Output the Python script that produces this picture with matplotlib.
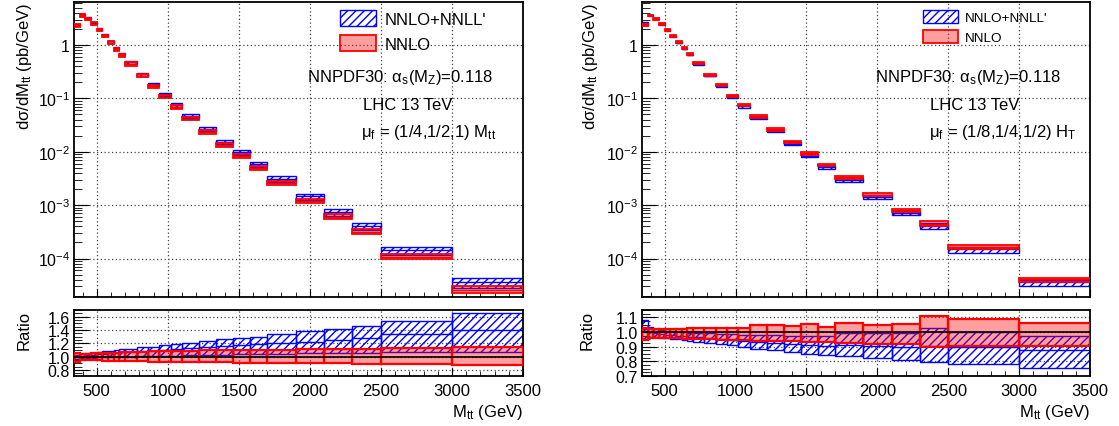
import numpy as np
import matplotlib
matplotlib.use('Agg')
import matplotlib.pyplot as plt
from matplotlib.ticker import FixedLocator, MultipleLocator, FuncFormatter, LogLocator, NullFormatter

plt.rcParams['font.family'] = ['Liberation Sans', 'DejaVu Sans']
plt.rcParams['mathtext.fontset'] = 'custom'
plt.rcParams['mathtext.rm'] = 'Liberation Sans'
plt.rcParams['mathtext.it'] = 'Liberation Sans:italic'
plt.rcParams['mathtext.bf'] = 'Liberation Sans:bold'
plt.rcParams['mathtext.default'] = 'rm'
plt.rcParams['hatch.linewidth'] = 1.0
plt.rcParams['hatch.color'] = 'blue'

# ---------------- data ----------------
mtt_edges = [340, 380, 420, 460, 500, 540, 580, 620, 660, 700, 780, 860, 940, 1020, 1100,
             1220, 1340, 1460, 1580, 1700, 1900, 2100, 2300, 2500, 3000, 3500]

# left panel: mu_f = (1/4,1/2,1) M_tt
nnlo_L = [2.37, 3.61, 3.13, 2.52, 1.94, 1.48, 1.11, 0.84, 0.65, 0.44, 0.267, 0.168, 0.108,
          0.068, 0.042, 0.0237, 0.0133, 0.0083, 0.0050, 0.0026, 0.00119, 0.00060, 0.00032,
          0.000109, 0.000026]
red_hi_L = [1.06, 1.045, 1.045, 1.05, 1.05, 1.055, 1.06, 1.06, 1.065, 1.07, 1.075, 1.08, 1.08,
            1.085, 1.09, 1.095, 1.095, 1.10, 1.10, 1.105, 1.11, 1.115, 1.12, 1.13, 1.15]
red_lo_L = [0.925, 0.945, 0.945, 0.945, 0.945, 0.94, 0.94, 0.935, 0.935, 0.93, 0.93, 0.925, 0.925,
            0.92, 0.92, 0.915, 0.915, 0.91, 0.91, 0.91, 0.905, 0.90, 0.895, 0.885, 0.87]
blue_hi_L = [1.03, 1.04, 1.05, 1.06, 1.07, 1.08, 1.09, 1.10, 1.11, 1.12, 1.14, 1.15, 1.17, 1.19,
             1.21, 1.23, 1.26, 1.28, 1.30, 1.34, 1.38, 1.42, 1.46, 1.54, 1.65]
blue_c_L = [1.0, 1.01, 1.02, 1.03, 1.035, 1.04, 1.05, 1.06, 1.065, 1.07, 1.08, 1.09, 1.10, 1.11,
            1.13, 1.14, 1.16, 1.18, 1.19, 1.21, 1.225, 1.25, 1.285, 1.335, 1.40]
blue_lo_L = [0.97, 0.975, 0.98, 0.985, 0.99, 0.99, 0.995, 1.0, 1.0, 1.0, 1.005, 1.01, 1.01, 1.015,
             1.02, 1.025, 1.03, 1.035, 1.04, 1.045, 1.05, 1.055, 1.06, 1.065, 1.07]

# right panel: mu_f = (1/8,1/4,1/2) H_T
nnlo_R = [2.44, 3.60, 3.13, 2.52, 1.94, 1.50, 1.14, 0.88, 0.68, 0.46, 0.28, 0.178, 0.114,
          0.075, 0.0465, 0.0266, 0.0154, 0.0093, 0.0057, 0.0033, 0.00158, 0.00080, 0.00045,
          0.000166, 0.000041]
red_hi_R = [1.028, 1.018, 1.018, 1.018, 1.02, 1.02, 1.022, 1.022, 1.025, 1.025, 1.028, 1.03, 1.028,
            1.03, 1.046, 1.046, 1.042, 1.053, 1.034, 1.061, 1.05, 1.057, 1.107, 1.09, 1.064]
red_lo_R = [0.943, 0.96, 0.96, 0.96, 0.958, 0.958, 0.956, 0.955, 0.955, 0.953, 0.95, 0.948, 0.948,
            0.946, 0.942, 0.94, 0.938, 0.935, 0.932, 0.925, 0.92, 0.918, 0.898, 0.902, 0.902]
blue_hi_R = [1.085, 1.035, 1.02, 1.012, 1.008, 1.005, 1.0, 0.998, 0.996, 0.994, 0.99, 0.988, 0.985,
             0.982, 0.98, 0.978, 0.975, 0.972, 0.97, 0.99, 0.99, 0.99, 1.027, 1.0, 0.97]
blue_c_R = [1.02, 1.0, 0.99, 0.985, 0.982, 0.98, 0.975, 0.97, 0.968, 0.965, 0.958, 0.952, 0.948,
            0.94, 0.932, 0.928, 0.92, 0.91, 0.906, 0.913, 0.905, 0.898, 0.905, 0.895, 0.875]
blue_lo_R = [0.955, 0.965, 0.965, 0.96, 0.957, 0.955, 0.95, 0.945, 0.94, 0.935, 0.926, 0.917, 0.91,
             0.90, 0.885, 0.88, 0.867, 0.85, 0.845, 0.836, 0.82, 0.807, 0.795, 0.78, 0.757]

label_resum = "NNLO+NNLL'"
label_fixed = "NNLO"
pdf_text = r"NNPDF30: α$_{\rm s}$(M$_{\rm Z}$)=0.118"
lhc_text = "LHC 13 TeV"
scale_L = r"μ$_{\rm f}$ = (1/4,1/2,1) M$_{\rm tt}$"
scale_R = r"μ$_{\rm f}$ = (1/8,1/4,1/2) H$_{\rm T}$"

# ---------------- figure ----------------
W, H = 1119, 427
fig = plt.figure(figsize=(W / 100, H / 100), dpi=100)


def rect(x0, x1, y0, y1):
    return [x0 / W, 1 - y1 / H, (x1 - x0) / W, (y1 - y0) / H]


edges = np.array(mtt_edges, dtype=float)
lefts = edges[:-1]
rights = edges[1:]
widths = np.diff(edges)

BLUE = '#0000ff'
RED = '#ff0000'
RFILL = (1.0, 0.0, 0.0, 0.38)


def log_fmt(v, p):
    if abs(v - 1) < 1e-9:
        return '1'
    return r'$10^{%d}$' % int(round(np.log10(v)))


def style(ax, ratio):
    for s in ax.spines.values():
        s.set_linewidth(1.3)
    ax.tick_params(which='both', direction='in', top=False, right=False, labelsize=11.5)
    ax.tick_params(axis='y', which='major', length=10.5, pad=3)
    ax.tick_params(axis='y', which='minor', length=5.5)
    ax.tick_params(axis='x', which='major', length=6, pad=5, labelsize=12)
    ax.tick_params(axis='x', which='minor', length=3.5)
    ax.xaxis.set_major_locator(MultipleLocator(500))
    ax.xaxis.set_minor_locator(MultipleLocator(100))
    ax.set_xlim(edges[0], edges[-1])
    ax.grid(True, which='major', linestyle=(0, (1, 2)), color='#444444', linewidth=0.9)
    ax.set_axisbelow(True)
    if not ratio:
        ax.tick_params(axis='x', labelbottom=False)


panels = [
    dict(x0=74, x1=523, nnlo=nnlo_L, rhi=red_hi_L, rlo=red_lo_L, bhi=blue_hi_L, bc=blue_c_L,
         blo=blue_lo_L, scale=scale_L, rlim=(0.71, 1.70), rmaj=0.2, rmin=0.05,
         leg=dict(anchor=(0.592, 0.972), fs=12, hl=2.2, hh=1.1, ls=0.5, tp=0.5),
         tx=(0.726, 0.744, 0.79), ylab_x=-0.089, rlab_x=-0.095),
    dict(x0=642, x1=1090, nnlo=nnlo_R, rhi=red_hi_R, rlo=red_lo_R, bhi=blue_hi_R, bc=blue_c_R,
         blo=blue_lo_R, scale=scale_R, rlim=(0.70, 1.15), rmaj=0.1, rmin=0.025,
         leg=dict(anchor=(0.627, 0.972), fs=9.7, hl=2.6, hh=1.05, ls=0.45, tp=0.55),
         tx=(0.728, 0.743, 0.806), ylab_x=-0.094, rlab_x=-0.105),
]

for p in panels:
    nn = np.array(p['nnlo'])
    rhi, rlo = np.array(p['rhi']), np.array(p['rlo'])
    bhi, bc, blo = np.array(p['bhi']), np.array(p['bc']), np.array(p['blo'])

    # ---- main panel ----
    ax = fig.add_axes(rect(p['x0'], p['x1'], 3, 298))
    ax.set_yscale('log')
    hb = ax.bar(lefts, nn * (bhi - blo), width=widths, bottom=nn * blo, align='edge',
                facecolor='none', edgecolor=BLUE, hatch='////', linewidth=1.0, zorder=2,
                label=label_resum)
    ax.hlines(nn * bc, lefts, rights, colors=BLUE, linewidth=1.0, zorder=2)
    hr = ax.bar(lefts, nn * (rhi - rlo), width=widths, bottom=nn * rlo, align='edge',
                facecolor=RFILL, edgecolor=RED, linewidth=1.3, zorder=3, label=label_fixed)
    ax.hlines(nn, lefts, rights, colors=RED, linewidth=1.0, zorder=3)
    ax.set_ylim(1.9e-5, 6.4)
    ax.yaxis.set_major_locator(FixedLocator([1e-4, 1e-3, 1e-2, 1e-1, 1]))
    ax.yaxis.set_major_formatter(FuncFormatter(log_fmt))
    ax.yaxis.set_minor_locator(LogLocator(base=10, subs=np.arange(2, 10), numticks=20))
    ax.yaxis.set_minor_formatter(NullFormatter())
    style(ax, False)
    ax.set_ylabel(r"dσ/dM$_{\rm tt}$ (pb/GeV)", fontsize=12, loc='top')
    ax.yaxis.set_label_coords(p['ylab_x'], 1.0)
    lg = p['leg']
    ax.legend(handles=[hb, hr], loc='upper left', bbox_to_anchor=lg['anchor'], frameon=False,
              fontsize=lg['fs'], handlelength=lg['hl'], handleheight=lg['hh'],
              labelspacing=lg['ls'], handletextpad=lg['tp'], borderpad=0, borderaxespad=0)
    ax.text(p['tx'][0], 0.749, pdf_text, transform=ax.transAxes, ha='center', va='center',
            fontsize=12)
    ax.text(p['tx'][1], 0.654, lhc_text, transform=ax.transAxes, ha='center', va='center',
            fontsize=12)
    ax.text(p['tx'][2], 0.560, p['scale'], transform=ax.transAxes, ha='center', va='center',
            fontsize=12)

    # ---- ratio panel ----
    ar = fig.add_axes(rect(p['x0'], p['x1'], 311, 377))
    ar.bar(lefts, bhi - blo, width=widths, bottom=blo, align='edge', facecolor='none',
           edgecolor=BLUE, hatch='////', linewidth=1.0, zorder=2)
    ar.hlines(bc, lefts, rights, colors=BLUE, linewidth=1.0, zorder=2)
    ar.bar(lefts, rhi - rlo, width=widths, bottom=rlo, align='edge', facecolor=RFILL,
           edgecolor=RED, linewidth=1.6, zorder=3)
    ar.axhline(1.0, color='black', linewidth=1.2, zorder=4)
    ar.set_ylim(*p['rlim'])
    ar.yaxis.set_major_locator(MultipleLocator(p['rmaj']))
    ar.yaxis.set_minor_locator(MultipleLocator(p['rmin']))
    ar.yaxis.set_major_formatter(FuncFormatter(lambda v, q: '%.1f' % v))
    style(ar, True)
    ar.set_ylabel('Ratio', fontsize=12, loc='top')
    ar.yaxis.set_label_coords(p['rlab_x'], 1.0)
    ar.set_xlabel(r"M$_{\rm tt}$ (GeV)", fontsize=12, loc='right')
    ar.xaxis.set_label_coords(1.0, -0.40)
    ar.xaxis.label.set_verticalalignment('top')

fig.savefig('out.png', dpi=100)
